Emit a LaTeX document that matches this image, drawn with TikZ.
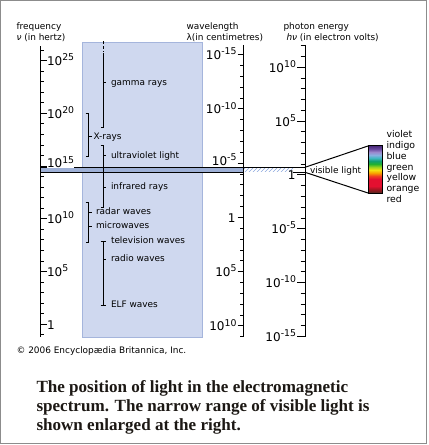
\documentclass[tikz,border=0pt]{standalone}
\usepackage{fontspec}
\setmainfont{DejaVu Sans}
\newfontfamily\captionfont{Liberation Serif}
\usetikzlibrary{patterns}

\definecolor{framegray}{RGB}{140,140,140}
\definecolor{columnblue}{RGB}{207,216,239}
\definecolor{columnedge}{RGB}{165,181,220}
\definecolor{bandblue}{RGB}{158,176,214}
\definecolor{hatchblue}{RGB}{140,168,222}
\definecolor{captiongray}{RGB}{28,24,20}
% spectrum colours, bottom (red end) to top (violet end)
\definecolor{specbrown}{RGB}{80,40,30}
\definecolor{specdarkred}{RGB}{150,24,32}
\definecolor{specred}{RGB}{228,16,48}
\definecolor{specredorange}{RGB}{240,64,32}
\definecolor{specorange}{RGB}{248,160,0}
\definecolor{specyellow}{RGB}{244,226,16}
\definecolor{specyellowgreen}{RGB}{150,210,32}
\definecolor{specgreen}{RGB}{32,176,48}
\definecolor{specteal}{RGB}{16,160,112}
\definecolor{speccyan}{RGB}{64,184,192}
\definecolor{speclightblue}{RGB}{138,176,224}
\definecolor{speclavender}{RGB}{154,136,204}
\definecolor{specpurple}{RGB}{106,74,160}
\definecolor{specviolet}{RGB}{74,42,122}

\pgfdeclareverticalshading{visiblespectrum}{100bp}{
  color(0bp)=(specbrown); color(25bp)=(specbrown);
  color(28.2bp)=(specdarkred); color(32.4bp)=(specred);
  color(39.9bp)=(specred); color(43.1bp)=(specredorange);
  color(46.3bp)=(specorange); color(49.5bp)=(specyellow);
  color(52.7bp)=(specyellowgreen); color(55.9bp)=(specgreen);
  color(59bp)=(specteal); color(62.2bp)=(speccyan);
  color(65.4bp)=(speclightblue); color(68.6bp)=(speclavender);
  color(71.8bp)=(specpurple); color(75bp)=(specviolet);
  color(100bp)=(specviolet)}

% ten to a power, exponent raised to the tick
\newcommand{\tenpow}[1]{10\raisebox{3.7pt}{\fontsize{7}{8}\selectfont#1}}

\tikzset{
  smalltext/.style={font=\fontsize{6.7}{8}\selectfont, inner sep=0pt, anchor=base west},
  scalelabel/.style={font=\fontsize{9}{10}\selectfont, inner sep=0pt},
  captionline/.style={font=\captionfont\bfseries\fontsize{12.8}{15}\selectfont, text=captiongray, inner sep=0pt, anchor=base west},
}

\begin{document}
\begin{tikzpicture}[x=0.75pt, y=-0.75pt, line width=0.75pt]
    % Page and frame
    \useasboundingbox (0,0) rectangle (428,445);
    \draw[framegray] (0.5,0.5) rectangle (426.5,443.5);

    % Blue column behind the radiation names
    \filldraw[fill=columnblue, draw=columnedge] (82,43) rectangle (202,337);

    % Narrow visible band across the scales
    \fill[bandblue] (40,167.3) rectangle (243.5,172.3);
    \fill[pattern=north east lines, pattern color=hatchblue] (243.5,167.8) rectangle (293,171.8);
    \draw (40,167.3) -- (305,167.3);
    \draw (40,172.3) -- (243.5,172.3);
    \draw (293,172.3) -- (305,172.3);

    % Frequency scale (ticks every decade)
    \node[smalltext] (freqhead) at (16,29.5) {frequency};
    \node[smalltext] (frequnit) at (16,40.5) {\itshape ν\upshape\ (in hertz)};
    \draw (40,46.5) -- (40,337);
    \foreach \k in {-1,...,26} {
        \pgfmathsetmacro{\yy}{324.3-10.545*\k}
        \draw (40,\yy) -- (43.5,\yy);
    }
    \foreach \k in {5,10,20,25} {
        \pgfmathsetmacro{\yy}{324.3-10.545*\k}
        \draw (40,\yy) -- (46.5,\yy);
        \node[scalelabel, anchor=base west] (nu\k) at (46.5,\yy+5) {\tenpow{\k}};
    }
    % 10^15 sits on the band, on a white ground
    \draw (40,166.1) -- (46.5,166.1);
    \node[scalelabel, anchor=base west, fill=white] (nu15) at (46.5,168) {\tenpow{15}};
    \draw (40,324.3) -- (46.5,324.3);
    \node[scalelabel, anchor=base west] (nu0) at (46.5,329.3) {1};

    % Wavelength scale
    \node[smalltext] (wavehead) at (186,29.5) {wavelength};
    \node[smalltext] (waveunit) at (186,40.5) {λ(in centimetres)};
    \draw (243.5,45) -- (243.5,337);
    \foreach \k in {-15,...,11} {
        \pgfmathsetmacro{\yy}{163.2+10.85*(\k+5)}
        \draw (240,\yy) -- (243.5,\yy);
    }
    \foreach \k in {-15,-10,5,10} {
        \pgfmathsetmacro{\yy}{163.2+10.85*(\k+5)}
        \draw (237.7,\yy) -- (243.5,\yy);
        \node[scalelabel, anchor=base east] (lam\k) at (237,\yy+5) {\tenpow{\k}};
    }
    \draw (237.7,163.2) -- (243.5,163.2);
    \node[scalelabel, anchor=base east] (lam-5) at (237,165.2) {\tenpow{-5}};
    \draw (237.7,217.45) -- (243.5,217.45);
    \node[scalelabel, anchor=base east] (lam0) at (236,222.45) {1};

    % Photon energy scale
    \node[smalltext] (enhead) at (283,29.5) {photon energy};
    \node[smalltext] (enunit) at (286,40.5) {\itshape hν\upshape\ (in electron volts)};
    \draw (305,45) -- (305,337);
    \foreach \k in {-15,...,12} {
        \pgfmathsetmacro{\yy}{175-10.76*\k}
        \draw (300.5,\yy) -- (305,\yy);
    }
    \foreach \k in {-15,-10,-5,5,10} {
        \pgfmathsetmacro{\yy}{175-10.76*\k}
        \draw (297,\yy) -- (305,\yy);
        \node[scalelabel, anchor=base east] (ev\k) at (296.5,\yy+5) {\tenpow{\k}};
    }
    \draw (297,175) -- (305,175);
    \node[scalelabel, anchor=base east] (ev0) at (296,180) {1};

    % Gamma rays (dashed above the top)
    \draw[dash pattern=on 2pt off 1.5pt] (103,41.5) -- (103,52);
    \draw (103,53) -- (103,128) -- (100.5,128);
    \draw (103,83) -- (106,83);
    \node[smalltext] (gamma) at (110.5,85.7) {gamma rays};

    % X-rays
    \draw (85.5,114) -- (88,114) -- (88,157) -- (85.5,157);
    \draw (88,137) -- (91.5,137);
    \node[smalltext] (xrays) at (93,139.7) {X-rays};

    % Ultraviolet and infrared, one line through the visible band
    \draw (100.5,146) -- (103,146) -- (103,207) -- (100.5,207);
    \draw (103,156) -- (106,156);
    \node[smalltext] (uv) at (110.5,158.7) {ultraviolet light};
    \draw (103,187) -- (106,187);
    \node[smalltext] (ir) at (110.5,189.7) {infrared rays};

    % Radar and microwaves
    \draw (85.5,202) -- (88,202) -- (88,242) -- (85.5,242);
    \draw (88,212) -- (91.5,212);
    \node[smalltext] (radar) at (95.5,214.7) {radar waves};
    \draw (88,226) -- (91.5,226);
    \node[smalltext] (micro) at (95.5,228.7) {microwaves};

    % Television, radio and ELF waves
    \draw (100.5,241) -- (106,241);
    \draw (103,241) -- (103,305);
    \draw (100.5,305) -- (106,305);
    \node[smalltext] (tv) at (110.5,243.7) {television waves};
    \draw (103,259) -- (106,259);
    \node[smalltext] (radio) at (110.5,261.7) {radio waves};
    \node[smalltext] (elf) at (110.5,307.7) {ELF waves};

    % Visible light enlarged
    \node[smalltext] (vislight) at (309.5,173.5) {visible light};
    \draw (305,167.3) -- (368,146);
    \draw (305,172.3) -- (368,193);
    \shade[shading=visiblespectrum] (368,146) rectangle (382,193);
    \draw (368,146) rectangle (382,193);
    \foreach \c [count=\i from 0] in {violet,indigo,blue,green,yellow,orange,red}
        \node[smalltext, font=\fontsize{7}{8}\selectfont] (name\c) at (386,137.5+10.87*\i) {\c};

    % Credit and caption
    \node[smalltext] (credit) at (16,353.5) {© 2006 Encyclopædia Britannica, Inc.};
    \node[captionline] (cap1) at (36,392) {The position of light in the electromagnetic};
    \node[captionline] (cap2) at (36,411.5) {spectrum. The narrow range of visible light is};
    \node[captionline] (cap3) at (36,430.5) {shown enlarged at the right.};
\end{tikzpicture}
\end{document}
